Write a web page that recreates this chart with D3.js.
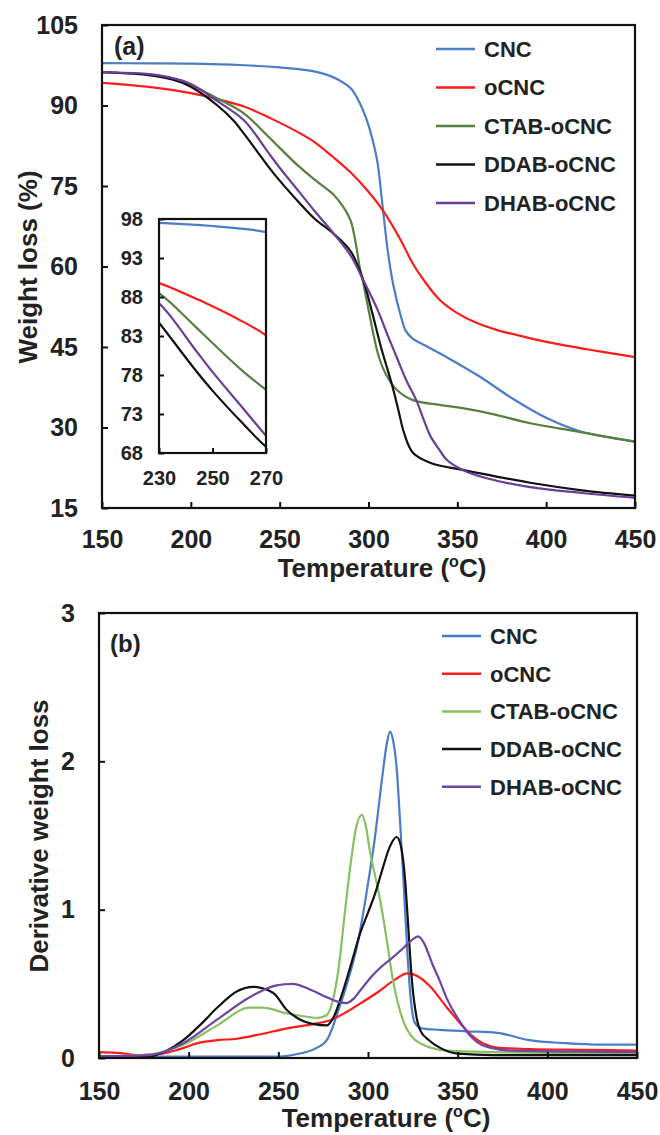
<!DOCTYPE html>
<html>
<head>
<meta charset="utf-8">
<script src="https://cdn.jsdelivr.net/npm/d3@7"></script>
<style>
  body { margin: 0; background: #fff; }
  svg text { font-family: "Liberation Sans", Arial, sans-serif; font-weight: bold; fill: #222; }
</style>
</head>
<body>
<div id="app"></div>
<script>
// names + colours
const seriesNames = ["CNC", "oCNC", "CTAB-oCNC", "DDAB-oCNC", "DHAB-oCNC"];
const colorsA = ["#4a7cc9", "#ff1a1a", "#55803f", "#111111", "#6a3d9a"];
const colorsB = ["#4a7cc9", "#ff1a1a", "#86c061", "#111111", "#6b45a8"];

// tick labels
const xTicks = [150, 200, 250, 300, 350, 400, 450];
const yTicksA = [15, 30, 45, 60, 75, 90, 105];
const yTicksB = [0, 1, 2, 3];
const insetXTicks = [230, 250, 270];
const insetYTicks = [68, 73, 78, 83, 88, 93, 98];

// (a) weight loss (%) : [temperature, value]
const tgCNC = [[150, 97.9], [175, 97.85], [200, 97.8], [230, 97.5], [250, 97.1], [265, 96.6], [275, 95.9], [282, 95], [290, 93.2], [295, 90.5], [299, 87.3], [302, 84], [305, 79.5], [308, 71], [311, 62.5], [314, 56.5], [318, 51], [321, 48], [325, 46.5], [330, 45.6], [344, 43.1], [363, 39.4], [381, 35.4], [400, 31.8], [419, 29.3], [435, 28.2], [450, 27.4]];
const tgOCNC = [[150, 94.2], [175, 93.5], [200, 92.3], [215, 91.2], [230, 89.8], [245, 87.6], [261, 84.9], [270, 83.1], [280, 80.4], [290, 77.5], [299, 74.3], [308, 70.5], [318, 65], [325, 60.5], [331, 57.5], [340, 53.8], [350, 51.3], [360, 49.6], [372, 48.2], [390, 46.7], [409, 45.4], [430, 44.2], [450, 43.1]];
const tgCTAB = [[150, 96.2], [175, 95.8], [190, 95], [200, 93.8], [215, 91.3], [230, 88.5], [243, 84.4], [250, 82.1], [261, 78.6], [270, 76.1], [280, 73.5], [286, 71], [290, 68.5], [293, 64], [295, 60], [297, 57], [300, 52], [303, 47], [306, 43], [310, 39.8], [316, 37], [325, 35.1], [340, 34.2], [353, 33.6], [370, 32.5], [391, 30.8], [410, 29.7], [430, 28.5], [450, 27.3]];
const tgDDAB = [[150, 96.2], [175, 95.7], [190, 94.8], [200, 93.5], [215, 90], [224, 87.2], [230, 84.7], [243, 78.9], [250, 76], [261, 71.9], [270, 68.8], [280, 66.2], [290, 62.8], [297, 57.5], [302, 51.5], [307, 45], [311, 40.5], [314, 37], [317, 33], [320, 29], [325, 25.3], [335, 23.4], [353, 22.1], [370, 21], [391, 19.7], [420, 18.3], [450, 17.3]];
const tgDHAB = [[150, 96.2], [175, 95.9], [190, 95.1], [200, 94], [215, 90.8], [230, 87.2], [243, 81.5], [250, 78.4], [261, 73.9], [270, 70.2], [280, 66.3], [290, 62], [297, 57.5], [305, 52], [311, 47], [316, 43], [321, 39], [327, 35], [331, 31.5], [335, 28.3], [340, 25.8], [344, 24], [353, 22.1], [366, 20.6], [391, 18.9], [420, 17.8], [450, 16.9]];

// (b) derivative weight loss : [temperature, value]
const dtgCNC = [[150, 0.01], [200, 0.01], [250, 0.01], [262, 0.03], [270, 0.06], [277, 0.12], [284, 0.34], [289, 0.53], [294, 0.76], [299, 1.1], [304, 1.5], [308, 1.9], [310.5, 2.12], [312.3, 2.2], [314, 2.14], [316, 1.95], [318, 1.57], [320, 1.15], [322, 0.7], [324, 0.38], [326, 0.24], [330, 0.2], [340, 0.19], [355, 0.18], [372, 0.17], [390, 0.12], [410, 0.1], [430, 0.09], [450, 0.09]];
const dtgOCNC = [[150, 0.04], [160, 0.035], [172, 0.02], [185, 0.03], [195, 0.06], [205, 0.1], [216, 0.12], [227, 0.13], [240, 0.16], [255, 0.2], [270, 0.23], [280, 0.26], [288, 0.31], [296, 0.37], [305, 0.44], [314, 0.52], [322, 0.57], [328, 0.55], [334, 0.49], [344, 0.34], [351, 0.24], [358, 0.15], [364, 0.1], [372, 0.07], [390, 0.06], [420, 0.055], [450, 0.05]];
const dtgCTAB = [[150, 0.01], [175, 0.02], [197, 0.09], [216, 0.22], [234, 0.34], [241, 0.34], [255, 0.3], [265, 0.28], [272, 0.27], [277, 0.29], [281, 0.42], [284, 0.64], [287, 0.97], [290, 1.28], [293.5, 1.56], [296.7, 1.64], [299, 1.55], [301, 1.4], [305, 1.17], [307, 1.05], [310, 0.83], [314, 0.52], [319.6, 0.25], [324, 0.15], [329, 0.1], [344, 0.05], [370, 0.04], [450, 0.03]];
const dtgDDAB = [[150, 0.01], [178, 0.01], [188, 0.05], [197, 0.12], [207, 0.23], [216, 0.34], [227, 0.45], [236, 0.48], [247, 0.44], [255, 0.32], [262, 0.26], [269, 0.23], [277, 0.22], [281, 0.28], [286, 0.45], [291, 0.65], [295.6, 0.84], [300, 0.98], [304, 1.11], [308, 1.27], [312, 1.42], [316, 1.49], [318.5, 1.42], [320.7, 1.2], [322, 0.97], [324.5, 0.52], [327, 0.28], [329, 0.19], [334, 0.12], [340, 0.07], [350, 0.03], [370, 0.02], [450, 0.02]];
const dtgDHAB = [[150, 0.01], [178, 0.02], [197, 0.1], [216, 0.26], [234, 0.41], [249, 0.49], [258, 0.5], [268, 0.46], [277, 0.41], [283, 0.38], [288, 0.37], [292, 0.4], [296, 0.46], [302, 0.55], [307, 0.61], [313, 0.67], [319.6, 0.74], [325, 0.8], [328, 0.82], [331, 0.78], [336, 0.63], [340, 0.52], [344, 0.4], [351, 0.25], [357, 0.15], [363, 0.09], [368, 0.07], [380, 0.05], [450, 0.04]];

const tgData = [tgCNC, tgOCNC, tgCTAB, tgDDAB, tgDHAB];
const dtgData = [dtgCNC, dtgOCNC, dtgCTAB, dtgDDAB, dtgDHAB];

const W = 660;
const H = 1135;

const svg = d3.select("#app").append("svg").attr("width", W).attr("height", H);

// draws a framed plot with inward ticks
const drawPanel = (opt) => {
  const x = d3.scaleLinear().domain(opt.xDomain).range(opt.xRange);
  const y = d3.scaleLinear().domain(opt.yDomain).range(opt.yRange);
  const g = svg.append("g");

  const clipId = "clip" + Math.round(opt.xRange[0]) + "_" + Math.round(opt.yRange[1]);
  g.append("clipPath")
    .attr("id", clipId)
    .append("rect")
    .attr("x", opt.xRange[0])
    .attr("y", opt.yRange[1])
    .attr("width", opt.xRange[1] - opt.xRange[0])
    .attr("height", opt.yRange[0] - opt.yRange[1]);

  g.append("rect")
    .attr("x", opt.xRange[0])
    .attr("y", opt.yRange[1])
    .attr("width", opt.xRange[1] - opt.xRange[0])
    .attr("height", opt.yRange[0] - opt.yRange[1])
    .attr("fill", "#fff");

  const line = d3
    .line()
    .x((d) => x(d[0]))
    .y((d) => y(d[1]))
    .curve(opt.curve);

  g.append("g")
    .attr("clip-path", `url(#${clipId})`)
    .selectAll("path")
    .data(opt.data)
    .join("path")
    .attr("d", line)
    .attr("fill", "none")
    .attr("stroke", (d, i) => opt.colors[i])
    .attr("stroke-width", 2.2);

  //x-axis
  const xAxis = g
    .append("g")
    .attr("transform", `translate(0,${opt.yRange[0]})`)
    .call(
      d3.axisBottom(x).tickValues(opt.xTicks).tickFormat((d) => d)
        .tickSize(-opt.tick).tickSizeOuter(0).tickPadding(opt.xPad)
    );
  //y-axis
  const yAxis = g
    .append("g")
    .attr("transform", `translate(${opt.xRange[0]},0)`)
    .call(
      d3.axisLeft(y).tickValues(opt.yTicks).tickFormat((d) => d)
        .tickSize(-opt.tick).tickSizeOuter(0).tickPadding(opt.yPad)
    );
  [xAxis, yAxis].forEach((a) => {
    a.select(".domain").remove();
    a.attr("font-size", opt.fontSize).attr("font-family", null);
    a.selectAll("line").attr("stroke", "#111").attr("stroke-width", 2);
    a.selectAll("text").attr("fill", "#222");
  });

  //frame
  g.append("rect")
    .attr("x", opt.xRange[0])
    .attr("y", opt.yRange[1])
    .attr("width", opt.xRange[1] - opt.xRange[0])
    .attr("height", opt.yRange[0] - opt.yRange[1])
    .attr("fill", "none")
    .attr("stroke", "#111")
    .attr("stroke-width", 2.2);

  return { x, y, g };
};

const drawLegend = (lx, ly, step, colors) => {
  seriesNames.forEach((name, i) => {
    const yy = ly + i * step;
    svg.append("line")
      .attr("x1", lx).attr("x2", lx + 39)
      .attr("y1", yy).attr("y2", yy)
      .attr("stroke", colors[i])
      .attr("stroke-width", 2.5);
    svg.append("text")
      .attr("x", lx + 48)
      .attr("y", yy)
      .attr("dy", "0.36em")
      .attr("font-size", 22)
      .text(name);
  });
};

const tempTitle = (cx, by) => {
  const t = svg.append("text")
    .attr("x", cx)
    .attr("y", by)
    .attr("text-anchor", "middle")
    .attr("font-size", 26);
  t.append("tspan").text("Temperature (");
  t.append("tspan").attr("font-size", 16).attr("dy", -10).text("o");
  t.append("tspan").attr("dy", 10).text("C)");
};

// ---- panel (a)
drawPanel({
  xDomain: [150, 450], xRange: [102, 635],
  yDomain: [15, 105], yRange: [508, 25],
  data: tgData, colors: colorsA, curve: d3.curveCatmullRom.alpha(0.5),
  xTicks: xTicks, yTicks: yTicksA,
  tick: 6, xPad: 22, yPad: 24, fontSize: 25
});

svg.append("text").attr("x", 114).attr("y", 55).attr("font-size", 25).text("(a)");
drawLegend(436, 49, 38.5, colorsA);

svg.append("text")
  .attr("transform", "translate(37,267) rotate(-90)")
  .attr("text-anchor", "middle")
  .attr("font-size", 26)
  .text("Weight loss (%)");
tempTitle(382, 577);

// inset
drawPanel({
  xDomain: [230, 270], xRange: [159, 266],
  yDomain: [68, 98], yRange: [453, 219],
  data: tgData, colors: colorsA, curve: d3.curveCatmullRom.alpha(0.5),
  xTicks: insetXTicks, yTicks: insetYTicks,
  tick: 5, xPad: 18, yPad: 16, fontSize: 20
});

// ---- panel (b)
drawPanel({
  xDomain: [150, 450], xRange: [99, 637],
  yDomain: [0, 3], yRange: [1058, 613],
  data: dtgData, colors: colorsB, curve: d3.curveMonotoneX,
  xTicks: xTicks, yTicks: yTicksB,
  tick: 6, xPad: 24, yPad: 24, fontSize: 25
});

svg.append("text").attr("x", 110).attr("y", 652).attr("font-size", 24).text("(b)");
drawLegend(442, 636, 37.7, colorsB);

svg.append("text")
  .attr("transform", "translate(48,836) rotate(-90)")
  .attr("text-anchor", "middle")
  .attr("font-size", 26)
  .text("Derivative weight loss");
tempTitle(386, 1127);
</script>
</body>
</html>
